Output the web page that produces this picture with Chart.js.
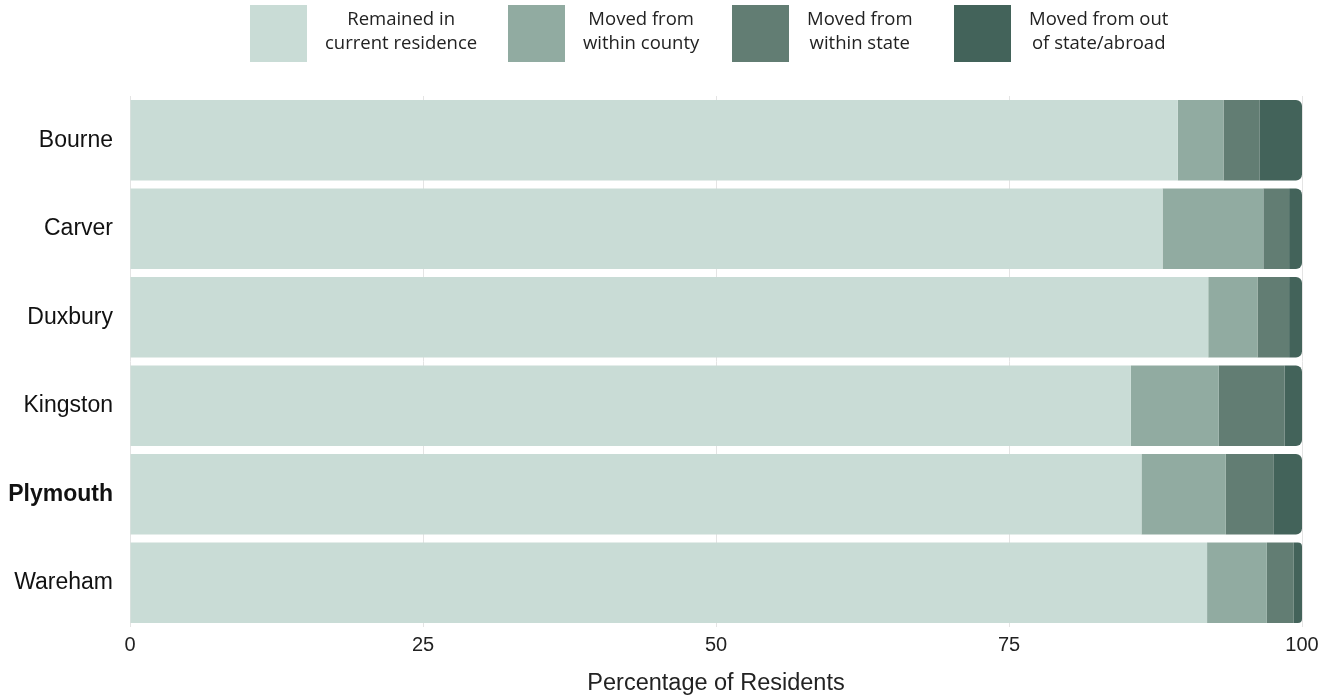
<!DOCTYPE html>
<html lang="en">
  <head>
    <meta charset="UTF-8" />
    <title>Mobility of residents</title>
    <style>
      body { margin: 0; background: #fff; }
      .wrap { width: 1333px; height: 700px; }
    </style>
  </head>
  <body>
    <div class="wrap">
      <canvas id="moveChart" width="1333" height="700"></canvas>
    </div>
    <script src="https://cdn.jsdelivr.net/npm/chart.js@4.4.0/dist/chart.umd.min.js"></script>
    <script>
      // towns and the share of residents by where they lived a year ago
      var towns = ["Bourne", "Carver", "Duxbury", "Kingston", "Plymouth", "Wareham"];
      var remained = [89.4, 88.1, 92.0, 85.4, 86.3, 91.9];
      var withinCounty = [3.9, 8.6, 4.2, 7.5, 7.2, 5.1];
      var withinState = [3.1, 2.2, 2.7, 5.6, 4.1, 2.3];
      var outOfState = [3.6, 1.1, 1.1, 1.5, 2.4, 0.7];
      var xTicks = [0, 25, 50, 75, 100];

      var legendLines = [
        ["Remained in", "current residence"],
        ["Moved from", "within county"],
        ["Moved from", "within state"],
        ["Moved from out", "of state/abroad"]
      ];
      var colors = ["#c9dcd6", "#91aba1", "#627d73", "#43635a"];

      // legend with two-line labels drawn above the chart
      var topLegend = {
        id: "topLegend",
        afterDraw: function (chart) {
          var ctx = chart.ctx;
          ctx.save();
          ctx.font = "18.5px 'Open Sans'";
          ctx.textBaseline = "middle";
          ctx.textAlign = "center";
          var boxX = [250, 508, 732, 954];
          for (var i = 0; i < legendLines.length; i++) {
            ctx.fillStyle = colors[i];
            ctx.fillRect(boxX[i], 5, 57, 57);
            var w = Math.max(ctx.measureText(legendLines[i][0]).width, ctx.measureText(legendLines[i][1]).width);
            var cx = boxX[i] + 57 + 18 + w / 2;
            ctx.fillStyle = "#222";
            ctx.fillText(legendLines[i][0], cx, 20);
            ctx.fillText(legendLines[i][1], cx, 44);
          }
          ctx.restore();
        }
      };

      function makeSet(label, data, color, last) {
        return {
          label: label,
          data: data,
          backgroundColor: color,
          borderWidth: 0,
          barPercentage: 0.91,
          categoryPercentage: 1,
          borderRadius: last ? { topLeft: 0, bottomLeft: 0, topRight: 6, bottomRight: 6 } : 0
        };
      }

      var ctx = document.getElementById("moveChart").getContext("2d");
      var moveChart = new Chart(ctx, {
        type: "bar",
        data: {
          labels: towns,
          datasets: [
            makeSet(legendLines[0].join(" "), remained, colors[0], false),
            makeSet(legendLines[1].join(" "), withinCounty, colors[1], false),
            makeSet(legendLines[2].join(" "), withinState, colors[2], false),
            makeSet(legendLines[3].join(" "), outOfState, colors[3], true)
          ]
        },
        options: {
          indexAxis: "y",
          responsive: false,
          animation: false,
          layout: { padding: { top: 96, right: 31, left: 0, bottom: 0 } },
          plugins: {
            legend: { display: false },
            tooltip: { enabled: false }
          },
          scales: {
            x: {
              stacked: true,
              min: 0,
              max: 100,
              afterBuildTicks: function (scale) {
                scale.ticks = xTicks.map(function (v) { return { value: v }; });
              },
              afterFit: function (scale) { scale.height = 73; },
              grid: { color: "#e4e4e4", drawTicks: false },
              border: { display: false },
              ticks: {
                padding: 6,
                color: "#222",
                font: { family: "'Liberation Sans', Arial", size: 20 }
              },
              title: {
                display: true,
                text: "Percentage of Residents",
                color: "#222",
                padding: { top: 4, bottom: 2 },
                font: { family: "'Liberation Sans', Arial", size: 23.5 }
              }
            },
            y: {
              stacked: true,
              afterFit: function (scale) { scale.width = 130; },
              grid: { display: false },
              border: { display: false },
              ticks: {
                padding: 9,
                color: "#111",
                font: function (c) {
                  return {
                    family: "'Liberation Sans', Arial",
                    size: 23,
                    weight: c.index === 4 ? "bold" : "normal"
                  };
                }
              }
            }
          }
        },
        plugins: [topLegend]
      });
    </script>
  </body>
</html>
